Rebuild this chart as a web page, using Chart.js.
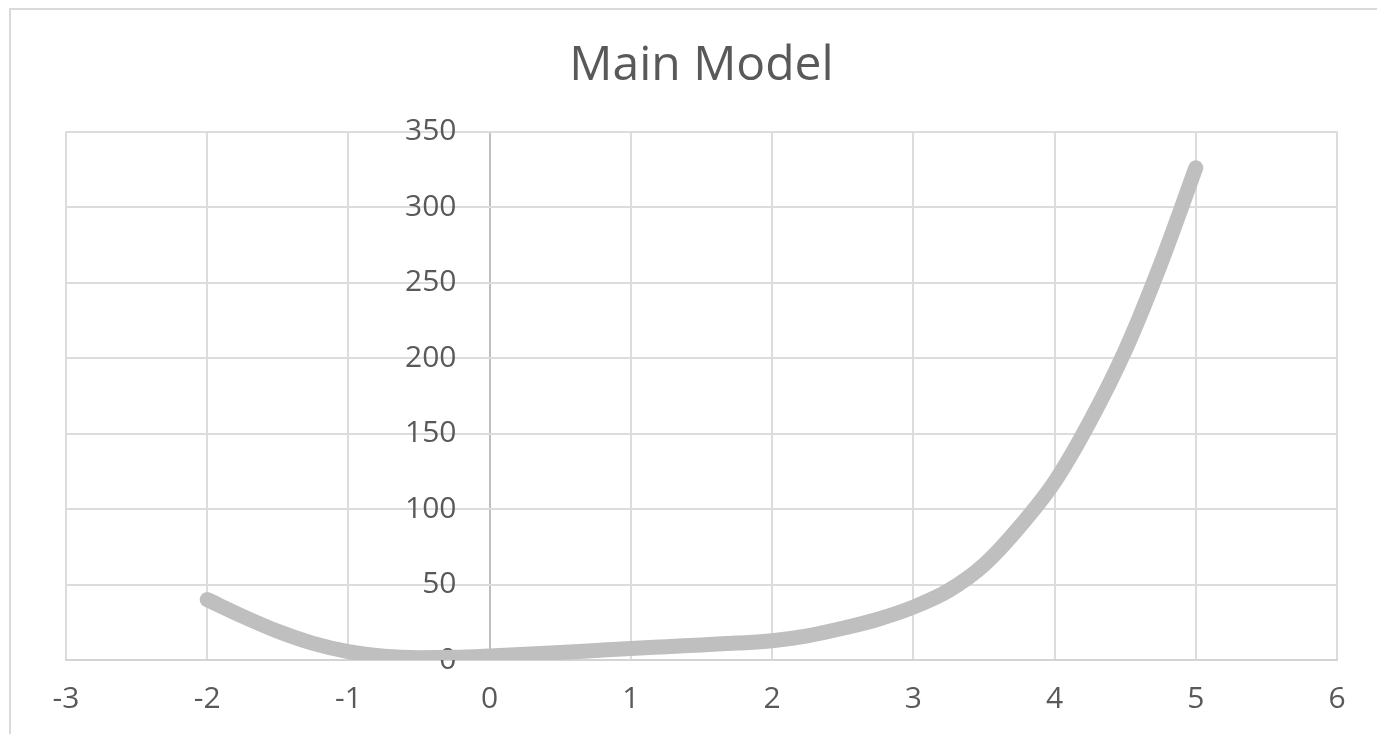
<!DOCTYPE html>
<html>
<head>
<meta charset="utf-8">
<script src="https://cdn.jsdelivr.net/npm/chart.js@4"></script>
<style>
  html, body { margin: 0; padding: 0; background: #fff; overflow: hidden; }
  #frame { position: absolute; left: 9px; top: 8px; width: 1400px; height: 760px; border: 2px solid #d9d9d9; }
  #wrap { position: absolute; left: 0; top: 0; width: 1377px; height: 734px; }
</style>
</head>
<body>
<div id="frame"></div>
<div id="wrap"><canvas id="chart"></canvas></div>
<script>
// Main Model curve
const xs = [-2, -1.75, -1.5, -1.25, -1, -0.75, -0.5, -0.25, 0, 0.25, 0.5, 0.75, 1, 1.25, 1.5, 1.75, 2, 2.25, 2.5, 2.75, 3, 3.25, 3.5, 3.75, 4, 4.25, 4.5, 4.75, 5];
const ys = [40, 29, 19, 11, 5.5, 2.5, 1.5, 1.8, 2.7, 3.8, 5, 6.3, 7.6, 8.8, 10, 11.2, 12.8, 16, 21, 27, 35, 46, 63, 88, 118, 158, 205, 262, 326];

const xMin = -3, xMax = 6, xStep = 1;
const yMin = 0, yMax = 350, yStep = 50;

const tickFont = { family: 'Open Sans', size: 30 };
const gridColor = '#dcdcdc';

new Chart(document.getElementById('chart'), {
  type: 'scatter',
  data: {
    datasets: [{
      label: 'Main Model',
      data: xs.map((x, i) => ({ x, y: ys[i] })),
      showLine: true,
      borderColor: '#bfbfbf',
      borderWidth: 15,
      borderCapStyle: 'round',
      borderJoinStyle: 'round',
      cubicInterpolationMode: 'monotone',
      pointRadius: 0,
      fill: false,
    }],
  },
  options: {
    responsive: true, maintainAspectRatio: false, animation: false,
    layout: { padding: { left: 66, right: 40, top: 0, bottom: -4 } },
    plugins: {
      legend: { display: false },
      tooltip: { enabled: false },
      title: {
        display: true, text: 'Main Model', color: '#595959',
        font: { family: 'Open Sans', size: 48, weight: 'normal' },
        padding: { top: 38, bottom: 36 },
      },
    },
    scales: {
      x: {
        type: 'linear', min: xMin, max: xMax,
        ticks: { stepSize: xStep, color: '#595959', font: tickFont, padding: 21, maxRotation: 0 },
        // vertical axis line sits at x = 0 like Excel's crossing axis
        grid: { color: c => c.tick && c.tick.value === 0 ? '#bfbfbf' : gridColor, lineWidth: 2, drawTicks: false },
        border: { color: '#d4d4d4', width: 2 },
      },
      y: {
        type: 'linear', min: yMin, max: yMax, position: { x: -0.235 },
        ticks: { stepSize: yStep, color: '#595959', font: tickFont },
        grid: { color: gridColor, lineWidth: 2, drawTicks: false },
        border: { display: false },
      },
    },
  },
});
</script>
</body>
</html>
